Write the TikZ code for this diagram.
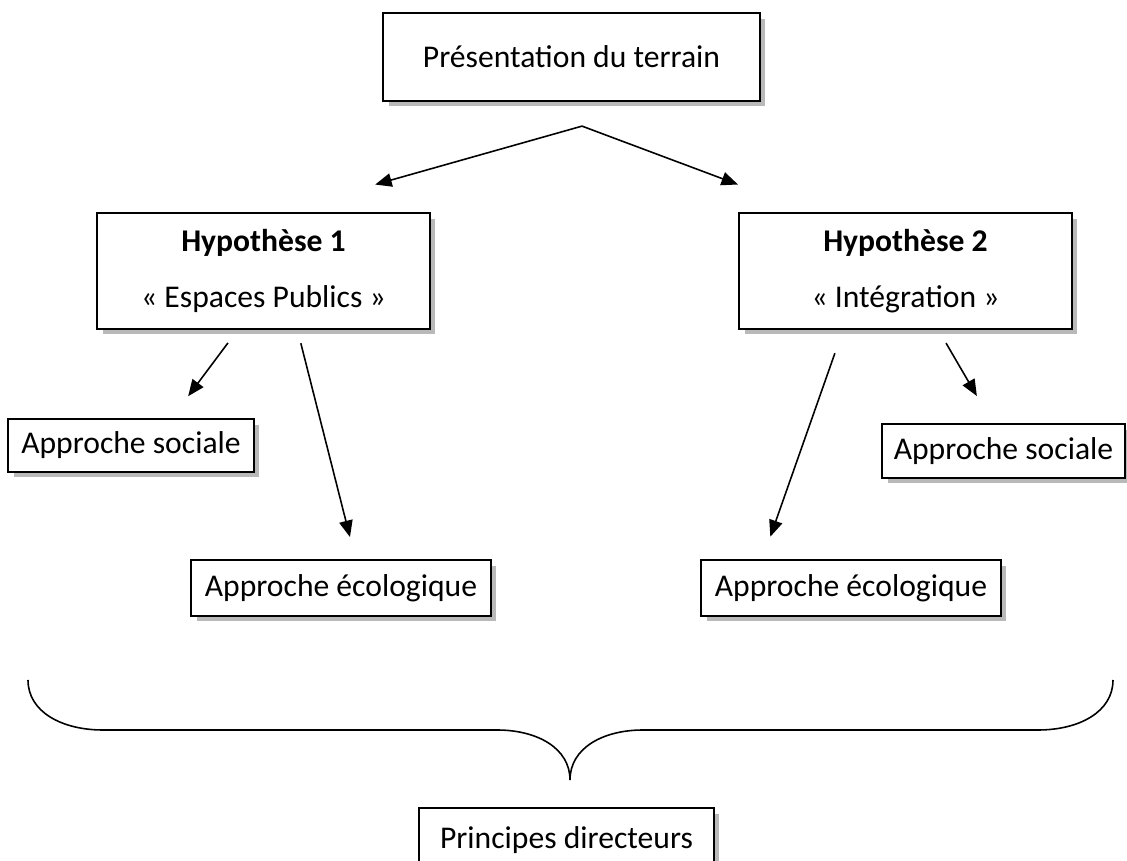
\documentclass[tikz,border=0pt]{standalone}
\usepackage{fontspec}
\setmainfont{Carlito}
\usetikzlibrary{arrows.meta,shadows}
\tikzset{
box/.style={draw, line width=1.3pt, fill=white, inner sep=0pt, align=center, drop shadow={shadow xshift=0.11cm, shadow yshift=-0.11cm, fill=gray!55, opacity=1}}, % framed text with grey shadow
arr/.style={->, line width=0.9pt}, % free arrows between the boxes
}

\begin{document}
\begin{tikzpicture}[x=0.02cm, y=-0.02cm, >={Triangle[length=0.33cm,width=0.27cm]}, font=\fontsize{18}{22}\selectfont]
\useasboundingbox (0,0) rectangle (1127,861);
\node[box, minimum width=7.54cm, minimum height=1.76cm] (top) at (571.5,57) {Présentation du terrain};
\node[box, minimum width=6.66cm, minimum height=2.32cm] (hyp1) at (263.5,271) {\textbf{Hypothèse 1}\\[0.35cm]« Espaces Publics »};
\node[box, minimum width=6.66cm, minimum height=2.32cm] (hyp2) at (905.5,271) {\textbf{Hypothèse 2}\\[0.35cm]« Intégration »};
\node[box, minimum width=4.92cm, minimum height=1.06cm] (sl) at (131,445.5) {Approche sociale};
\node[box, minimum width=6cm, minimum height=1.12cm] (el) at (341,588) {Approche écologique};
\node[box, minimum width=4.86cm, minimum height=1.08cm] (sr) at (1003.5,451) {Approche sociale};
\node[box, minimum width=6cm, minimum height=1.12cm] (er) at (851,588) {Approche écologique};
\node[box, minimum width=5.9cm, minimum height=1.28cm] (prin) at (566.5,840) {Principes directeurs};

\coordinate (split) at ([xshift=0.21cm,yshift=-0.48cm]top.south);
\draw[arr, shorten >=2.01cm] (split) -- ([xshift=0.3cm]hyp1.north);
\draw[arr, shorten >=1.56cm] (split) -- ([xshift=-1.89cm]hyp2.north);
\draw[arr, shorten <=0.32cm, shorten >=0.54cm] ([xshift=-0.52cm]hyp1.south) -- ([xshift=0.82cm]sl.north);
\draw[arr, shorten <=0.27cm, shorten >=0.45cm] ([xshift=0.68cm]hyp1.south) -- ([xshift=0.29cm]el.north);
\draw[arr, shorten <=0.49cm, shorten >=0.47cm] ([xshift=-1.25cm]hyp2.south) -- ([xshift=-1.77cm]er.north);
\draw[arr, shorten <=0.3cm, shorten >=0.62cm] ([xshift=0.66cm]hyp2.south) -- ([xshift=-0.22cm]sr.north);

% brace
\draw[line width=0.9pt] (28,680) .. controls (28,712) and (62,730) .. (103,730) -- (497,730) .. controls (537,730) and (570,748) .. (570,780) .. controls (570,748) and (603,730) .. (643,730) -- (1038,730) .. controls (1079,730) and (1113,712) .. (1113,680);
\end{tikzpicture}
\end{document}
